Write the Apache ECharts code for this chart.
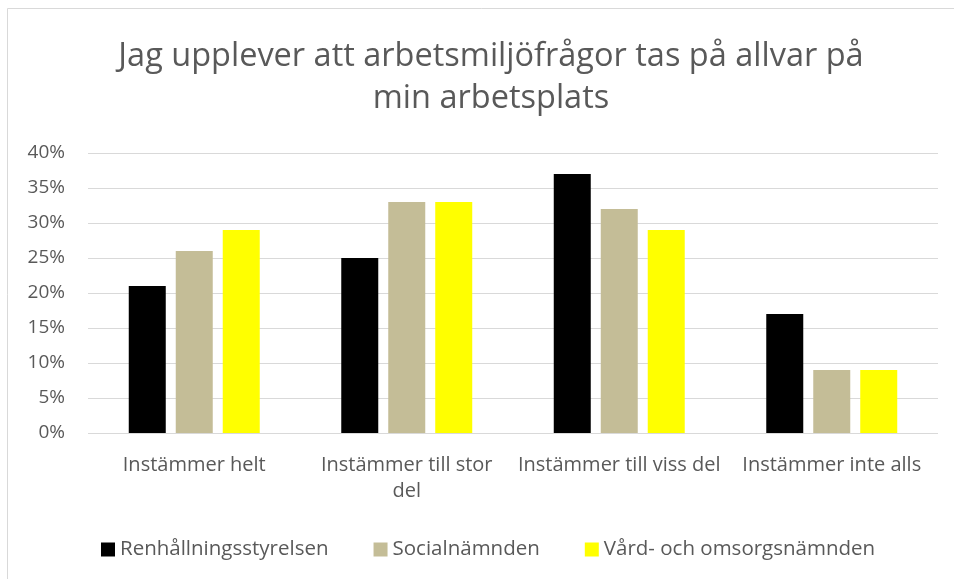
<!DOCTYPE html>
<html>
<head>
<meta charset="utf-8">
<script src="https://cdn.jsdelivr.net/npm/echarts@6/dist/echarts.min.js"></script>
<style>
  html, body { margin: 0; padding: 0; background: #fff; }
  #chart { width: 954px; height: 579px; }
</style>
</head>
<body>
<div id="chart"></div>
<script>
// kategorier och serier
var categories = ['Instämmer helt', 'Instämmer till stor\ndel', 'Instämmer till viss del', 'Instämmer inte alls'];
var renhallning = [21, 25, 37, 17];
var social = [26, 33, 32, 9];
var vard = [29, 33, 29, 9];
var yTicks = [0, 5, 10, 15, 20, 25, 30, 35, 40];

var textColor = '#595959';
var font = '"Open Sans", "Noto Sans", sans-serif';

var chart = echarts.init(document.getElementById('chart'));
var option = {
    backgroundColor: '#fff',
    textStyle: { fontFamily: font },
    graphic: [
        {
            type: 'rect',
            shape: { x: 7.5, y: 8.5, width: 1000, height: 1000 },
            style: { fill: 'none', stroke: '#d9d9d9', lineWidth: 1 },
            silent: true
        }
    ],
    title: {
        text: 'Jag upplever att arbetsmiljöfrågor tas på allvar på\nmin arbetsplats',
        left: 486,
        top: 31,
        textAlign: 'center',
        textStyle: {
            fontFamily: font,
            fontSize: 32.5,
            fontWeight: 'normal',
            color: textColor,
            lineHeight: 42
        }
    },
    legend: {
        data: ['Renhållningsstyrelsen', 'Socialnämnden', 'Vård- och omsorgsnämnden'],
        left: 101,
        top: 539,
        padding: 0,
        itemWidth: 14,
        itemHeight: 14,
        itemGap: 45,
        icon: 'rect',
        textStyle: { fontFamily: font, fontSize: 20.5, color: textColor }
    },
    grid: {
        left: 88,
        right: 16,
        top: 153,
        bottom: 146
    },
    xAxis: {
        type: 'category',
        data: categories,
        axisLine: { show: false },
        axisTick: { show: false },
        axisLabel: {
            color: textColor,
            fontFamily: font,
            fontSize: 20,
            margin: 19,
            lineHeight: 26,
            interval: 0
        }
    },
    yAxis: {
        type: 'value',
        min: yTicks[0],
        max: yTicks[yTicks.length - 1],
        interval: 5,
        axisLine: { show: false },
        axisTick: { show: false },
        splitLine: { lineStyle: { color: '#d9d9d9', width: 1 } },
        axisLabel: {
            color: textColor,
            fontFamily: font,
            fontSize: 19,
            margin: 23,
            formatter: '{value}%'
        }
    },
    series: [
        {
            name: 'Renhållningsstyrelsen',
            type: 'bar',
            data: renhallning,
            barWidth: 37,
            barGap: '27%',
            itemStyle: { color: '#000000' }
        },
        {
            name: 'Socialnämnden',
            type: 'bar',
            data: social,
            barWidth: 37,
            barGap: '27%',
            itemStyle: { color: '#c4bd97' }
        },
        {
            name: 'Vård- och omsorgsnämnden',
            type: 'bar',
            data: vard,
            barWidth: 37,
            barGap: '27%',
            itemStyle: { color: '#ffff00' }
        }
    ]
};
chart.setOption(option);
</script>
</body>
</html>
